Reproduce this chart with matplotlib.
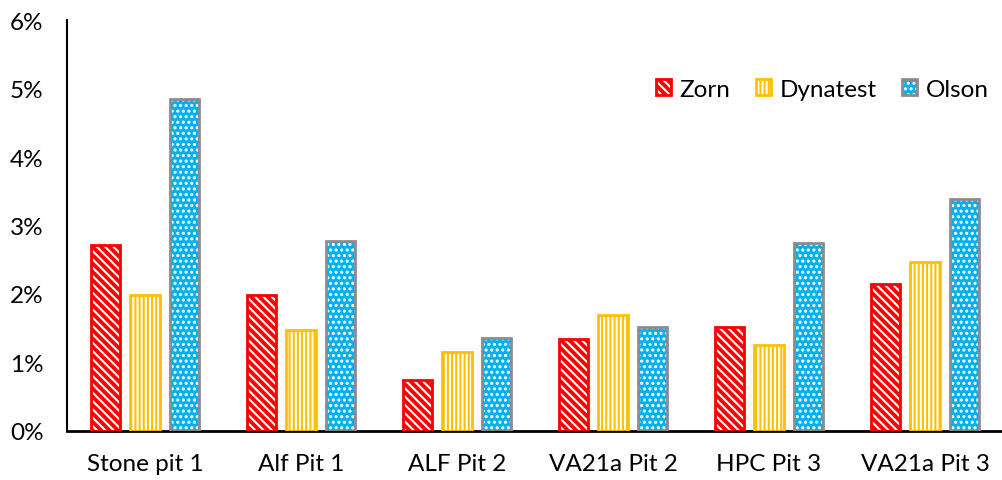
import numpy as np
import matplotlib.pyplot as plt
from matplotlib.patches import Patch
from matplotlib.ticker import PercentFormatter

plt.rcParams['font.family'] = ['Lato', 'DejaVu Sans']
plt.rcParams['hatch.linewidth'] = 1.5

categories = ['Stone pit 1', 'Alf Pit 1', 'ALF Pit 2', 'VA21a Pit 2', 'HPC Pit 3', 'VA21a Pit 3']
zorn = [2.72, 1.99, 0.74, 1.35, 1.52, 2.14]
dynatest = [1.99, 1.48, 1.16, 1.70, 1.25, 2.46]
olson = [4.84, 2.78, 1.36, 1.52, 2.75, 3.39]

series = [
    # name, values, face, hatch, hatch colour, edge colour
    ('Zorn', zorn, '#FF0000', '\\\\\\\\', 'white', '#FF0000'),
    ('Dynatest', dynatest, 'white', '||||', '#FFC000', '#FFC000'),
    ('Olson', olson, '#00B0F0', '...', 'white', '#8C8C8C'),
]

fig = plt.figure(figsize=(10.03, 4.81), dpi=100)
ax = fig.add_axes([0.0668, 0.1019, 0.9332, 0.8544])

x = np.arange(len(categories))
w = 0.19
step = 0.253
handles = []
for i, (name, vals, face, hatch, hcol, ecol) in enumerate(series):
    pos = x + (i - 1) * step
    # fill + hatch (hatch takes the edge colour, so draw the outline separately)
    ax.bar(pos, vals, width=w, color=face, edgecolor=hcol, hatch=hatch, linewidth=0, zorder=2)
    ax.bar(pos, vals, width=w, fill=False, edgecolor=ecol, linewidth=2, zorder=3)
    handles.append((Patch(facecolor=face, edgecolor=hcol, hatch=hatch, linewidth=0),
                    Patch(fill=False, edgecolor=ecol, linewidth=2)))

ax.set_xlim(-0.5, len(categories) - 0.5)
ax.set_ylim(0, 6)
ax.yaxis.set_major_formatter(PercentFormatter(decimals=0))
ax.set_xticks(x)
ax.set_xticklabels(categories)
ax.tick_params(axis='both', length=0, labelsize=17.5, colors='black')
ax.tick_params(axis='y', pad=17)
ax.tick_params(axis='x', pad=16)

for s in ['top', 'right']:
    ax.spines[s].set_visible(False)
ax.spines['left'].set_linewidth(1.5)
ax.spines['bottom'].set_linewidth(2)

ax.legend(handles=handles, labels=[s[0] for s in series], loc='upper right',
          bbox_to_anchor=(1.008, 0.91), ncol=3,
          frameon=False, fontsize=17.5, handlelength=0.62, handleheight=0.62,
          handletextpad=0.35, columnspacing=1.05)

fig.savefig('out.png', dpi=100)
